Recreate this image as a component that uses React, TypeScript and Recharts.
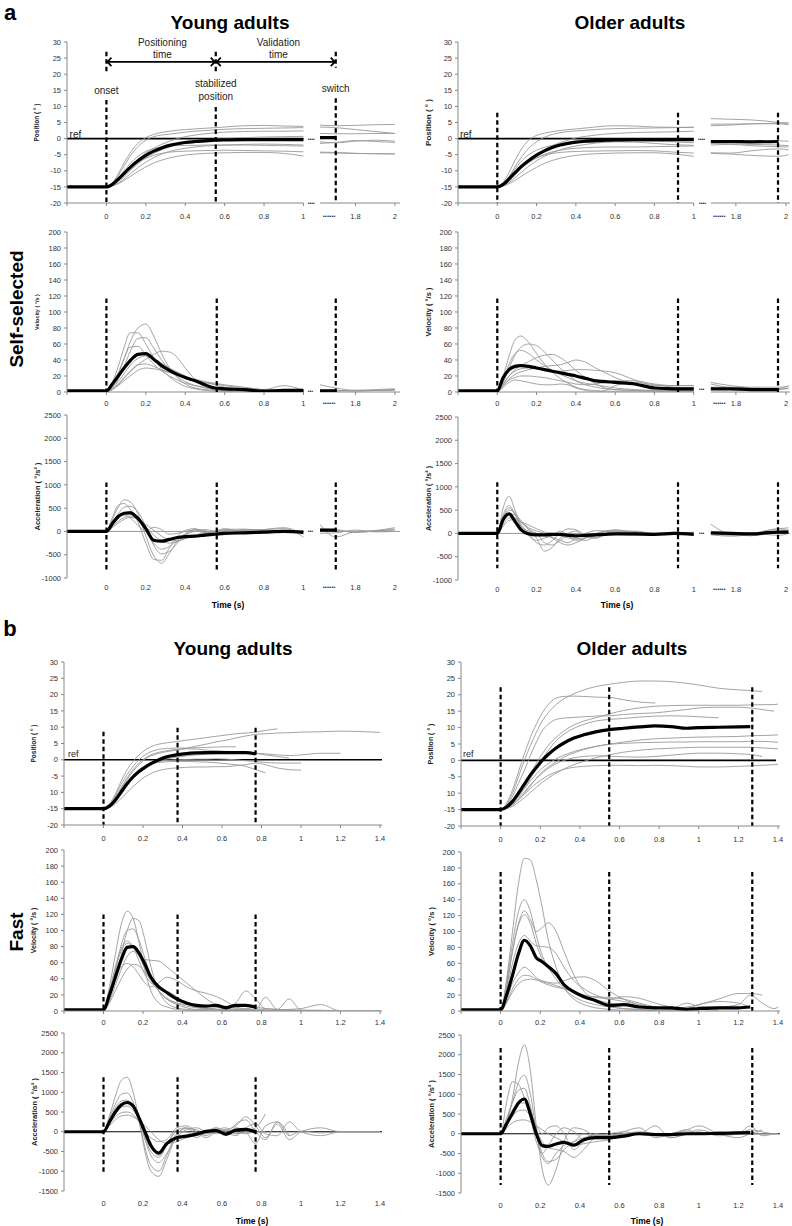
import React from "react";
import { LineChart, Line, XAxis, YAxis, ReferenceLine, ReferenceDot } from "recharts";

const FONT = "'Liberation Sans', Arial, Helvetica, sans-serif";
const GREY = "#9a9a9a";
const DOTS = "••••••";
const N = null;

// ---------- time grids (s) ----------
const timeAL = [-0.2, 0, 0.03, 0.06, 0.09, 0.12, 0.16, 0.2, 0.24, 0.28, 0.32, 0.36, 0.4, 0.45, 0.5, 0.55, 0.6, 0.7, 0.8, 0.9, 1.0, 1.02, 1.62, 1.7, 1.8, 1.9, 2.0];
const timeAR = [-0.2, 0, 0.03, 0.06, 0.09, 0.12, 0.16, 0.2, 0.24, 0.28, 0.32, 0.36, 0.4, 0.45, 0.5, 0.55, 0.6, 0.7, 0.8, 0.9, 1.0, 1.02, 1.7, 1.78, 1.86, 1.97, 2.01];
const timeBL = [-0.2, 0, 0.03, 0.06, 0.09, 0.12, 0.15, 0.18, 0.21, 0.24, 0.28, 0.32, 0.37, 0.42, 0.47, 0.52, 0.57, 0.62, 0.67, 0.72, 0.77, 0.82, 0.88, 0.94, 1.0, 1.1, 1.2, 1.4];
const timeBR = [-0.2, 0, 0.03, 0.06, 0.09, 0.12, 0.15, 0.18, 0.21, 0.24, 0.28, 0.32, 0.37, 0.42, 0.48, 0.55, 0.62, 0.7, 0.78, 0.86, 0.94, 1.0, 1.1, 1.2, 1.26, 1.32, 1.38, 1.4];

// ---------- a: self-selected, young ----------
const posMeanAL = [-15, -15, -14.2, -12.6, -10.8, -9.0, -6.9, -5.2, -3.9, -2.9, -2.1, -1.6, -1.2, -0.9, -0.7, -0.5, -0.4, -0.3, -0.3, -0.3, -0.3, N, 0.3, 0.3, N, N, N];
const posAL = [
  [-15, -15, -13.8, -11, -7.5, -4.5, -1.5, 0.3, 1.3, 1.9, 2.3, 2.6, 2.8, 3.0, 3.2, 3.4, 3.6, 4.0, 4.1, 3.9, 3.8, N, 4.2, 4.0, 4.1, 4.3, 4.4],
  [-15, -15, -14, -11.5, -8.5, -5.5, -2.5, -0.5, 0.6, 1.1, 1.4, 1.7, 2.0, 2.3, 2.5, 2.7, 2.9, 3.1, 3.2, 3.3, 3.4, N, 3.6, 3.4, 2.8, 2.2, 1.6],
  [-15, -15, -14.4, -13, -11, -9, -6.5, -4.5, -3, -1.8, -0.8, 0, 0.6, 1.1, 1.5, 1.8, 2.0, 2.2, 2.3, 2.3, 2.4, N, 1.6, 1.5, 1.5, 1.6, 1.6],
  [-15, -15, -14.5, -13.3, -11.8, -10, -7.8, -6, -4.6, -3.5, -2.6, -1.9, -1.4, -0.9, -0.5, -0.2, 0, 0.3, 0.5, 0.6, 0.7, N, -1.5, -1.2, -0.6, -0.9, -1.2],
  [-15, -15, -14.6, -13.8, -12.5, -11, -9, -7.3, -5.9, -4.8, -4, -3.4, -3, -2.6, -2.3, -2.1, -2, -1.8, -1.7, -1.8, -2.0, N, -1.0, -1.3, -0.8, -0.5, -0.8],
  [-15, -15, -14.3, -12.8, -11, -9.2, -7.4, -6.1, -5.2, -4.6, -4.2, -4, -3.9, -3.8, -3.7, -3.7, -3.6, -3.7, -3.8, -3.9, -4.1, N, -4.2, -4.3, -4.6, -4.7, -4.8],
  [-15, -15, -14.7, -14, -13, -11.8, -10.2, -8.8, -7.6, -6.7, -6, -5.5, -5.1, -4.8, -4.6, -4.5, -4.4, -4.3, -4.3, -4.6, -5.4, N, -4.4, -4.5, -4.6, -4.7, -4.7],
  [-15, -15, -14.2, -12.3, -10, -7.8, -5.5, -4, -3.1, -2.6, -2.3, -2.2, -2.1, -2.1, -2.0, -2.0, -2.0, -2.0, -2.1, -2.2, -2.3, N, N, N, N, N, N],
];
const velMeanAL = [1.5, 1.5, 10, 20, 30, 39, 47, 48, 41, 33, 27, 22, 18, 14, 9, 5, 4, 3, 1, 2, 2, N, 1.5, 1.5, N, N, N];
const velAL = [
  [0, 0, 8, 22, 42, 62, 80, 85, 70, 48, 30, 18, 10, 5, 3, 2, 1, 0.5, 0.5, 0.5, 0.5, N, 1, 2, 2, 3, 4],
  [0, 0, 12, 32, 56, 74, 74, 60, 43, 29, 19, 12, 7, 4, 2, 1, 1, 1, 1, 1, 1, N, 2, 2, 1, 2, 3],
  [0, 0, 6, 16, 32, 50, 67, 68, 55, 40, 28, 19, 13, 8, 5, 3, 2, 2, 2, 2, 2, N, 9, 5, 2, 2, 3],
  [0, 0, 9, 24, 42, 56, 57, 46, 35, 26, 20, 15, 11, 8, 6, 4, 3, 2, 1, 1, 1, N, N, N, N, N, N],
  [0, 0, 3, 9, 17, 25, 34, 41, 47, 51, 50, 43, 30, 16, 7, 3, 1, 0, 0, 0, 0, N, N, N, N, N, N],
  [0, 0, 5, 13, 23, 33, 42, 45, 42, 36, 30, 25, 20, 15, 12, 9, 6, 4, 2, 1, 1, N, 1, 1, 2, 2, 2],
  [0, 0, 4, 10, 18, 26, 34, 35, 32, 28, 25, 22, 19, 16, 13, 11, 9, 6, 3, 2, 2, N, N, N, N, N, N],
  [0, 0, 3, 8, 14, 20, 27, 30, 29, 27, 24, 21, 18, 15, 12, 10, 8, 5, 3, 8, 2, N, N, N, N, N, N],
];
const accMeanAL = [0, 0, 170, 320, 390, 400, 280, 60, -190, -210, -170, -130, -110, -100, -80, -60, -40, -30, -15, 0, -20, N, 30, 30, N, N, N];
const accAL = [
  [0, 0, 250, 520, 680, 640, 380, -100, -520, -680, -470, -200, -50, 40, 0, -30, 0, 30, 40, 60, -120, N, 150, -120, 0, 20, 80],
  [0, 0, 300, 560, 600, 480, 200, -250, -600, -620, -350, -100, 20, 60, -20, -50, 20, 0, 40, 80, -60, N, 50, 40, -20, 10, 30],
  [0, 0, 180, 380, 520, 540, 420, 100, -300, -480, -430, -250, -80, 0, 40, 0, -40, 20, 0, 20, 0, N, -40, -30, 30, -10, 0],
  [0, 0, 120, 280, 400, 430, 300, 30, -250, -380, -320, -180, -60, 40, 20, -40, -20, 40, 10, 0, 20, N, 0, 20, -20, 10, 50],
  [0, 0, 100, 220, 300, 330, 260, 100, -80, -200, -250, -220, -150, -80, -20, 10, 40, 50, 20, 10, 0, N, N, N, N, N, N],
  [0, 0, 80, 180, 260, 300, 270, 150, 30, -100, -180, -200, -150, -90, -40, 0, 30, 10, -20, 0, 0, N, N, N, N, N, N],
  [0, 0, 160, 300, 350, 290, 130, 10, 90, 40, -60, -40, 0, 30, -40, 0, 60, -10, 30, 10, 0, N, N, N, N, N, N],
];

// ---------- a: self-selected, older ----------
const posMeanAR = [-15, -15, -14.2, -12.5, -10.6, -8.8, -6.8, -5.1, -3.8, -2.8, -2.0, -1.5, -1.1, -0.8, -0.6, -0.5, -0.4, -0.3, -0.3, -0.3, -0.3, N, -0.9, -0.9, -1.0, -0.9, N];
const posAR = [
  [-15, -15, -13.6, -10.5, -6.8, -3.5, -0.5, 1.0, 1.7, 2.2, 2.5, 2.8, 3.0, 3.3, 3.6, 3.9, 4.0, 3.9, 3.6, 3.5, 3.4, N, 6.2, 6.0, 5.8, 5.0, 4.5],
  [-15, -15, -14, -11.8, -8.8, -6, -3, -1, 0.4, 1.3, 1.8, 2.2, 2.4, 2.6, 2.8, 3.0, 3.1, 3.2, 3.3, 3.4, 3.6, N, 4.0, 4.2, 4.6, 4.8, 5.0],
  [-15, -15, -14.5, -13.2, -11.4, -9.4, -7, -5, -3.4, -2.2, -1.2, -0.5, 0.2, 0.7, 1.1, 1.4, 1.6, 1.9, 2.0, 2.1, 2.3, N, 4.5, 4.5, 4.6, 4.6, 4.3],
  [-15, -15, -14.6, -13.6, -12.2, -10.6, -8.6, -6.9, -5.5, -4.4, -3.5, -2.8, -2.3, -1.8, -1.4, -1.1, -0.9, -0.7, -0.8, -1.0, -1.3, N, -1.2, -1.0, -0.8, -0.7, -0.8],
  [-15, -15, -14.4, -13, -11.2, -9.4, -7.5, -6, -4.9, -4.1, -3.6, -3.2, -3.0, -2.8, -2.7, -2.6, -2.6, -2.6, -2.5, -2.4, -2.3, N, -2.0, -1.8, -2.2, -2.5, -2.6],
  [-15, -15, -14.3, -12.7, -10.9, -9.1, -7.3, -6, -5.1, -4.6, -4.3, -4.1, -4.0, -3.9, -3.9, -3.8, -3.8, -3.7, -3.8, -4.2, -4.5, N, -4.6, -4.8, -5.2, -5.5, -5.0],
  [-15, -15, -14.7, -14, -13, -11.8, -10.3, -8.9, -7.7, -6.8, -6.1, -5.6, -5.2, -4.9, -4.7, -4.6, -4.5, -4.4, -4.4, -4.8, -5.5, N, -4.4, -4.5, -3.8, -3.2, -3.5],
  [-15, -15, -14, -12, -9.5, -7.2, -5, -3.6, -2.7, -2.1, -1.7, -1.5, -1.3, -1.2, -1.1, -1.0, -1.0, -1.1, -1.5, -1.9, -2.1, N, -1.5, -1.6, -1.8, -2.0, -2.2],
];
const velMeanAR = [1.5, 1.5, 18, 28, 32, 33, 32, 30, 28, 26, 24, 22, 20, 17, 14, 13, 12, 10, 5, 4, 4, N, 4, 4, 3, 3, N];
const velAR = [
  [0, 0, 20, 45, 65, 70, 62, 48, 35, 25, 17, 11, 6, 3, 2, 1, 1, 1, 1, 1, 1, N, 5, 3, 2, 3, 5],
  [0, 0, 12, 30, 46, 56, 60, 58, 50, 40, 30, 22, 14, 9, 6, 4, 3, 2, 2, 2, 2, N, 10, 5, 3, 4, 8],
  [0, 0, 15, 35, 48, 52, 48, 40, 33, 27, 22, 18, 14, 11, 9, 7, 5, 3, 2, 2, 2, N, N, N, N, N, N],
  [0, 0, 10, 20, 28, 33, 38, 43, 46, 47, 43, 36, 27, 18, 10, 5, 3, 2, 1, 1, 1, N, N, N, N, N, N],
  [0, 0, 8, 16, 22, 25, 28, 30, 32, 33, 34, 37, 40, 37, 30, 24, 18, 10, 6, 5, 5, N, 6, 6, 5, 4, 4],
  [0, 0, 10, 20, 26, 29, 30, 29, 27, 26, 26, 27, 28, 28, 27, 26, 24, 15, 8, 8, 8, N, 12, 8, 6, 6, 7],
  [0, 0, 8, 15, 18, 20, 20, 19, 18, 16, 14, 12, 10, 9, 10, 12, 14, 14, 10, 8, 8, N, N, N, N, N, N],
  [0, 0, 6, 12, 15, 14, 12, 10, 9, 9, 10, 9, 5, 2, 0, 2, 8, 12, 9, 6, 5, N, N, N, N, N, N],
];
const accMeanAR = [0, 0, 300, 420, 260, 80, -10, -30, -30, -20, -20, -40, -50, -40, -30, -20, -10, -10, -20, 0, -20, N, 10, 0, -10, 30, 30];
const accAR = [
  [0, 0, 550, 800, 500, 150, -50, -150, -100, -50, 50, -50, -150, -100, -20, 40, 60, 40, 0, 0, 30, N, 200, -20, -50, 40, 80],
  [0, 0, 400, 600, 400, 150, 50, 0, -200, -250, -150, -50, -100, -150, -50, 50, 50, 20, -30, 20, 0, N, -30, -60, -20, 100, 50],
  [0, 0, 300, 500, 450, 250, 80, -100, -380, -300, -100, 0, 50, -80, -100, 0, 40, -20, -40, 30, -30, N, 30, 20, 10, -40, 0],
  [0, 0, 250, 420, 400, 280, 100, 0, -50, -80, -150, -200, -100, 0, 60, 50, 0, -40, -30, 0, 20, N, N, N, N, N, N],
  [0, 0, 200, 330, 330, 250, 120, 50, 0, -100, -200, -250, -200, -100, 0, 50, 80, 20, -30, -20, 0, N, N, N, N, N, N],
  [0, 0, 150, 280, 300, 250, 180, 100, 30, 0, -50, -100, -120, -90, -50, -20, 0, 10, 0, -10, 0, N, N, N, N, N, N],
  [0, 0, 350, 550, 420, 200, 0, -200, -250, -150, 0, 100, 80, -50, -100, -30, 20, 50, 0, 0, 0, N, 0, -40, 0, 100, 120],
];

// ---------- b: fast, young ----------
const posMeanBL = [-15, -15, -14.2, -12.3, -9.8, -7.3, -5.2, -3.6, -2.3, -1.2, 0, 0.9, 1.5, 1.9, 2.1, 2.2, 2.2, 2.2, 2.2, 2.2, 1.8, N, N, N, N, N, N, N];
const posBL = [
  [-15, -15, -13.5, -10.5, -6.5, -3, -0.5, 1.5, 3, 4, 4.8, 5.2, 5.6, 6, 6.4, 6.8, 7.2, 7.6, 8, 8.2, 8.5, 9, 9.5, N, N, N, N, N],
  [-15, -15, -14, -12, -9, -6, -3.5, -1.5, 0.2, 1.2, 2, 2.5, 3, 3.5, 4.2, 4.8, 5.5, 6, 6.7, 7.3, 7.8, 8, 8.2, 8.3, 8.5, 8.6, 8.8, 8.4],
  [-15, -15, -13.8, -11, -7.5, -4.5, -2, 0, 1.5, 2.5, 3.2, 3.5, 3.6, 3.6, 3.7, 3.8, 3.9, 4, 4, N, N, N, N, N, N, N, N, N],
  [-15, -15, -14.5, -13, -10.5, -8, -5.8, -4, -2.6, -1.5, -0.5, 0.2, 0.8, 1.2, 1.5, 1.7, 1.9, 2, 2.1, 2.1, 2.0, 1.8, 1.5, 1.3, 1.5, 2, 2, N],
  [-15, -15, -14.3, -12.5, -10, -7.5, -5.3, -3.6, -2.3, -1.4, -0.6, -0.2, 0, 0.1, 0.2, 0.2, 0.3, 0.2, 0, -0.3, -0.5, -0.8, -1, -1, -1, N, N, N],
  [-15, -15, -14.6, -13.5, -11.8, -10, -8.2, -6.6, -5.2, -4.2, -3.3, -2.8, -2.5, -2.3, -2.2, -2.2, -2.1, -2.1, -1.8, -1.5, -1.0, -1.5, -2.5, -3, -3.2, N, N, N],
  [-15, -15, -14.2, -12.2, -9.6, -7, -4.8, -3, -1.8, -1.2, -0.8, -0.6, -0.5, -0.5, -0.6, -0.7, -0.9, -1.2, -1.5, -2.0, -3, -4, N, N, N, N, N, N],
  [-15, -15, -14, -11.5, -8.5, -5.5, -3, -1, 0.5, 1.5, 2.3, 2.8, 3.2, 3.4, 3.3, 3.0, 2.8, 2.6, 2.4, 2.2, 2.0, 1.5, 1, 0.5, N, N, N, N],
];
const velMeanBL = [1.5, 1.5, 20, 42, 64, 79, 80, 72, 58, 42, 30, 23, 15, 10, 7, 6, 7, 4, 7, 7, 5, N, N, N, N, N, N, N];
const velBL = [
  [0, 0, 30, 70, 108, 124, 115, 85, 50, 25, 10, 5, 2, 1, 1, 1, 1, 1, 1, 1, 1, 1, 1, 1, 0, N, N, N],
  [0, 0, 15, 40, 70, 100, 115, 112, 88, 55, 25, 10, 4, 2, 1, 1, 2, 4, 10, 25, 15, 3, 2, 1, N, N, N, N],
  [0, 0, 20, 50, 82, 100, 102, 88, 65, 42, 25, 15, 8, 4, 2, 2, 4, 6, 4, 3, 2, 17, 2, 15, 1, 0, N, N],
  [0, 0, 25, 55, 78, 87, 80, 62, 45, 35, 30, 25, 18, 10, 5, 3, 2, 1, 1, 1, 1, 1, 1, 2, 3, 8, 0, 0],
  [0, 0, 12, 32, 52, 68, 74, 70, 64, 63, 62, 55, 45, 35, 25, 15, 8, 4, 2, 1, 1, N, N, N, N, N, N, N],
  [0, 0, 18, 40, 55, 59, 55, 45, 35, 30, 35, 42, 38, 30, 25, 22, 18, 12, 5, 2, 1, 0, N, N, N, N, N, N],
  [0, 0, 10, 25, 40, 52, 58, 56, 48, 38, 25, 15, 10, 8, 5, 3, 2, 1, 3, 8, 3, 2, N, N, N, N, N, N],
  [0, 0, 22, 52, 75, 84, 80, 68, 52, 38, 25, 16, 10, 6, 4, 3, 2, 1, 1, 2, 5, 3, 2, 1, 1, 1, 0, 0],
];
const accMeanBL = [0, 0, 250, 500, 680, 740, 650, 350, 0, -350, -540, -300, -150, -110, -60, 10, 30, -60, 40, 60, -10, N, N, N, N, N, N, N];
const accBL = [
  [0, 0, 400, 900, 1300, 1380, 1000, 300, -500, -1000, -1130, -700, -100, 100, 0, -100, 50, 100, -50, 0, 0, N, N, N, N, N, N, N],
  [0, 0, 350, 700, 950, 980, 750, 250, -400, -850, -1000, -600, -50, 80, 50, -50, 100, -50, 200, 300, 0, -200, 250, -100, N, N, N, N],
  [0, 0, 300, 600, 780, 800, 650, 300, -200, -600, -780, -550, -150, 50, 100, 0, -50, 50, 150, 380, 150, -150, 200, -200, 0, 100, 0, 0],
  [0, 0, 250, 480, 620, 650, 550, 300, -100, -400, -600, -350, 50, 100, -50, 0, 50, -100, 100, 0, -300, 150, 250, -100, 20, -30, 0, 0],
  [0, 0, 200, 380, 480, 500, 430, 250, 0, -150, -250, -200, 100, 150, 0, -150, 0, 50, -50, 0, 100, 450, N, N, N, N, N, N],
  [0, 0, 280, 550, 720, 760, 620, 300, -150, -500, -650, -350, 0, 0, -150, 0, 100, 0, -100, 100, 200, -50, -100, 250, 0, -100, 0, 0],
  [0, 0, 150, 300, 400, 420, 380, 280, 150, 0, -200, -300, -250, -150, -100, -50, 0, 50, 0, -50, 0, 0, N, N, N, N, N, N],
];

// ---------- b: fast, older ----------
const posMeanBR = [-15, -15, -14.2, -12.5, -10, -7.2, -4.5, -2.2, 0, 1.8, 3.8, 5.3, 6.8, 7.8, 8.7, 9.4, 9.8, 10.2, 10.5, 10.3, 9.8, 10, 10.1, 10.2, 10.3, N, N, N];
const posBR = [
  [-15, -15, -13.5, -10, -5, 0, 4.5, 8.5, 12, 14.5, 17, 18.8, 20.3, 21.5, 22.5, 23.2, 23.8, 24.2, 24.2, 24, 23.5, 23, 22, 21.5, 21.3, 21, N, N],
  [-15, -15, -13, -9, -3.5, 2, 7, 11, 14.5, 17, 19, 19.5, 19.6, 19.5, 19.3, 19.2, 18.5, 17.8, 17.5, N, N, N, N, N, N, N, N, N],
  [-15, -15, -14.2, -12.5, -10, -7, -4, -1, 2, 4.5, 7, 9, 10.8, 12, 13, 14.2, 15.2, 16, 16.5, 16.7, 16.8, 16.8, 16.8, 16.8, 16.9, 17, 17, 17.2],
  [-15, -15, -13.8, -11, -7, -3, 1.5, 5.5, 9, 11, 12.5, 12.9, 13.1, 13.3, 13.5, 13.6, 14, 14.3, 14.5, 15, 15.5, 16, 16.2, 16.2, 16, 15.5, 15, N],
  [-15, -15, -14.5, -13, -11, -8.5, -5.5, -2.5, 0.5, 3, 6, 8, 9.8, 11, 12, 12.5, 12.8, 13.2, 13.5, 13.6, 13.5, 13.3, 13, N, N, N, N, N],
  [-15, -15, -14.6, -13.6, -12, -10, -7.8, -5.5, -3.5, -2, -0.5, 1, 2.3, 3.3, 4.2, 5, 5.6, 6.2, 6.6, 6.8, 7, 7.1, 7.2, 7.3, 7.5, 7.6, 7.7, 7.8],
  [-15, -15, -14.3, -12.8, -10.8, -8.6, -6.3, -4.2, -2.4, -1, 0.5, 1.6, 2.7, 3.5, 4.3, 4.9, 5.2, 5.4, 5.5, 5.6, 5.6, 5.7, 5.7, 5.7, 5.8, 5.8, 5.6, 5.5],
  [-15, -15, -14.7, -14, -12.8, -11.4, -9.8, -8.2, -6.7, -5.4, -3.9, -2.6, -1.3, -0.3, 0.8, 1.7, 2.5, 3.1, 3.5, 3.7, 3.9, 4, 4, 4, 4, 3.8, 3.6, 3.5],
  [-15, -15, -14.6, -13.5, -12, -10.3, -8.6, -7, -5.7, -4.6, -3.5, -2.7, -2.1, -1.8, -1.6, -1.5, -1.5, -1.6, -1.5, -1.6, -1.8, -2, -2, -1.8, -1.7, -1.5, -1.3, -1.2],
  [-15, -15, -14.5, -13.2, -11.5, -9.6, -7.5, -5.6, -3.9, -2.5, -1, 0, 0.8, 1.2, 1.4, 1.3, 1.1, 1.0, 1.2, 1.6, 2.0, 2.2, 2.2, 2.0, 1.8, 1.2, N, N],
];
const velMeanBR = [1.5, 1.5, 20, 45, 72, 89, 82, 67, 62, 56, 47, 33, 24, 18, 13, 7, 8, 5, 4, 4, 2, 3, 4, 4, 5, N, N, N];
const velBR = [
  [0, 0, 40, 100, 160, 192, 190, 165, 130, 90, 55, 30, 15, 8, 4, 2, 1, 1, 0, N, N, N, N, N, N, N, N, N],
  [0, 0, 35, 85, 125, 140, 125, 95, 70, 55, 40, 28, 18, 12, 8, 5, 3, 2, 1, 1, 0, N, N, N, N, N, N, N],
  [0, 0, 30, 75, 110, 126, 115, 100, 105, 111, 100, 75, 45, 25, 12, 6, 3, 2, 1, N, N, N, N, N, N, N, N, N],
  [0, 0, 30, 75, 108, 121, 110, 85, 65, 55, 45, 35, 25, 20, 18, 17, 15, 10, 5, 3, 2, 1, N, N, N, N, N, N],
  [0, 0, 25, 60, 85, 95, 88, 82, 81, 80, 72, 55, 38, 28, 20, 15, 18, 16, 10, 5, 3, 2, 1, N, N, N, N, N],
  [0, 0, 15, 35, 48, 55, 50, 42, 38, 36, 35, 38, 42, 43, 38, 25, 15, 8, 4, 2, 3, 8, 12, 10, 4, N, N, N],
  [0, 0, 12, 28, 40, 45, 44, 40, 36, 33, 30, 28, 24, 20, 17, 15, 12, 8, 5, 3, 5, 8, 15, 22, 22, 20, N, N],
  [0, 0, 10, 24, 34, 39, 40, 39, 37, 35, 32, 28, 24, 18, 14, 10, 8, 6, 4, 3, 10, 6, 5, 8, 20, 10, 3, 5],
];
const accMeanBR = [0, 0, 250, 520, 780, 880, 500, 0, -300, -320, -260, -220, -290, -150, -100, -100, -60, 0, -20, -20, 0, 0, 10, 20, 30, N, N, N];
const accBR = [
  [0, 0, 300, 900, 1800, 2250, 1600, 200, -900, -1300, -900, -200, 150, 100, -50, 0, 50, 0, 0, 0, 50, 0, N, N, N, N, N, N],
  [0, 0, 300, 800, 1300, 1480, 1000, 100, -500, -700, -650, -400, -200, 0, -100, -50, 50, 150, -100, 0, 100, 0, 50, 0, 0, N, N, N],
  [0, 0, 800, 1320, 1250, 900, 400, -200, -500, -300, 0, 150, 50, -150, 0, -100, 0, 0, 200, -100, 0, 100, 0, 0, N, N, N, N],
  [0, 0, 400, 800, 1100, 1150, 700, 0, -600, -750, -500, -300, -200, -100, -50, -50, 0, 50, 0, 0, 100, 200, 0, -100, 0, 100, N, N],
  [0, 0, 300, 600, 780, 780, 500, 100, -200, -350, -400, -450, -600, -400, -100, -100, 0, -20, 0, -100, 0, 50, -50, 0, 200, -50, 0, N],
  [0, 0, 250, 450, 580, 600, 450, 200, 0, 150, 200, 0, -400, -200, 0, -50, 0, 20, 0, 0, 0, 30, 0, 50, 0, 0, 0, 0],
  [0, 0, 150, 280, 340, 350, 300, 200, 100, 0, -100, -200, -300, -250, -200, -150, -50, 0, 0, 0, 0, 0, 0, 0, 100, 50, 0, 0],
];

// ---------- axis ticks ----------
const posTicks = [-20, -15, -10, -5, 0, 5, 10, 15, 20, 25, 30];
const velTicks = [0, 20, 40, 60, 80, 100, 120, 140, 160, 180, 200];
const accTicksA = [-1000, -500, 0, 500, 1000, 1500, 2000, 2500];
const accTicksB = [-1500, -1000, -500, 0, 500, 1000, 1500, 2000, 2500];
const tickTimesA = [-0.2, 0, 0.2, 0.4, 0.6, 0.8, 1, 1.8, 2];
const tickLabelsA = ["", "0", "0.2", "0.4", "0.6", "0.8", "1", "1.8", "2"];
const tickTimesB = [-0.2, 0, 0.2, 0.4, 0.6, 0.8, 1, 1.2, 1.4];
const tickLabelsB = ["", "0", "0.2", "0.4", "0.6", "0.8", "1", "1.2", "1.4"];

// broken time axis in panel a: 1.0 s is followed by the end of the trial
const dispAL = (t: number) => (t <= 1.05 ? t : 1.084 + (t - 1.62));
const dispAR = (t: number) => (t <= 1.05 ? t : 1.087 + (t - 1.7) * 1.276);
const ident = (t: number) => t;

function buildRows(times: number[], disp: (t: number) => number, mean: any[], traces: any[][]) {
  return times.map((t, i) => {
    const r: any = { x: disp(t), m: mean[i] };
    traces.forEach((s, k) => {
      r["g" + k] = s[i];
    });
    return r;
  });
}

const MT = 6;
const MR = 4;
const YW = 60;
const XH = 26;

type HSeg = { y: number; from: number; to: number; stroke: string; w: number };
type VSeg = { x: number; top: number; bottom: number };
type Note = { x: number; y: number; lines: string[]; anchor?: string; size?: number; gap?: number };

interface PanelCfg {
  x0: number; x1: number; y0: number; y1: number;
  rows: any[]; nTraces: number;
  xDomain: [number, number]; xTicks: number[]; xLabels: string[];
  yDomain: [number, number]; yTicks: number[]; yFmt?: (v: number) => string;
  yLabel: string; yLabelSize: number;
  labelOffset: number; tickMarks: boolean; xAxisLine: boolean;
  hsegs: HSeg[]; vsegs: VSeg[]; notes: Note[];
  arrows?: { from: number; to: number; y: number }[];
}

const arrowShape = (p: any) => {
  const { x1, y1, x2, y2 } = p;
  const hs = 5;
  return (
    <g stroke="#000" strokeWidth={1.8} fill="none">
      <line x1={x1 + 1} y1={y1} x2={x2 - 1} y2={y2} />
      <polyline points={`${x1 + hs},${y1 - hs * 0.85} ${x1 + 1},${y1} ${x1 + hs},${y1 + hs * 0.85}`} />
      <polyline points={`${x2 - hs},${y2 - hs * 0.85} ${x2 - 1},${y2} ${x2 - hs},${y2 + hs * 0.85}`} />
    </g>
  );
};

function renderNote(lp: any, n: Note) {
  const vb = lp.viewBox || {};
  const cx = (vb.x ?? vb.cx ?? 0) + (vb.width || 0) / 2;
  const cy = (vb.y ?? vb.cy ?? 0) + (vb.height || 0) / 2;
  const size = n.size ?? 10;
  const gap = n.gap ?? 12;
  const k = n.lines.length;
  return (
    <g>
      {n.lines.map((l, i) => (
        <text
          key={i}
          x={cx}
          y={cy + (i - (k - 1) / 2) * gap}
          textAnchor={(n.anchor as any) ?? "middle"}
          dominantBaseline="central"
          fontSize={size}
          fontFamily={FONT}
          fill="#222"
        >
          {l}
        </text>
      ))}
    </g>
  );
}

function Panel({ c }: { c: PanelCfg }) {
  const ph = c.y1 - c.y0;
  const w = c.x1 - c.x0 + YW + MR;
  const h = ph + MT + XH;
  const axisY = MT + ph;
  const renderTick = (tp: any) => {
    const v = tp.payload.value;
    const i = c.xTicks.findIndex((t) => Math.abs(t - v) < 1e-6);
    const lab = i >= 0 ? c.xLabels[i] : "";
    const dots = lab.startsWith("•");
    return (
      <g>
        {c.tickMarks && !dots && <line x1={tp.x} x2={tp.x} y1={axisY} y2={axisY + 3} stroke="#888" />}
        <text x={tp.x} y={axisY + c.labelOffset} textAnchor="middle" dominantBaseline="central" fontSize={dots ? 6 : 7.5} fill="#333" fontFamily={FONT}>
          {lab}
        </text>
      </g>
    );
  };
  return (
    <div style={{ position: "absolute", left: c.x0 - YW, top: c.y0 - MT }}>
      <LineChart width={w} height={h} data={c.rows} margin={{ top: MT, right: MR, bottom: 0, left: 0 }}>
        <XAxis
          type="number"
          dataKey="x"
          domain={c.xDomain}
          ticks={c.xTicks}
          interval={0}
          allowDataOverflow
          height={XH}
          axisLine={c.xAxisLine ? { stroke: "#888" } : false}
          tickLine={false}
          tick={renderTick}
        />
        <YAxis
          type="number"
          domain={c.yDomain}
          ticks={c.yTicks}
          interval={0}
          allowDataOverflow
          width={YW}
          tickSize={3}
          tickMargin={3}
          axisLine={{ stroke: "#888" }}
          tickLine={{ stroke: "#888" }}
          tick={{ fontSize: 7.5, fill: "#333", fontFamily: FONT }}
          tickFormatter={c.yFmt}
          label={{
            value: c.yLabel,
            angle: -90,
            position: "center",
            style: { fontSize: c.yLabelSize, fontWeight: "bold", fill: "#222", fontFamily: FONT },
          }}
        />
        {c.hsegs.map((s, i) => (
          <ReferenceLine
            key={"h" + i}
            segment={[{ x: s.from, y: s.y }, { x: s.to, y: s.y }]}
            stroke={s.stroke}
            strokeWidth={s.w}
            ifOverflow="visible"
          />
        ))}
        {Array.from({ length: c.nTraces }, (_, k) => (
          <Line
            key={"g" + k}
            dataKey={"g" + k}
            type="monotone"
            stroke={GREY}
            strokeWidth={0.9}
            dot={false}
            activeDot={false}
            isAnimationActive={false}
          />
        ))}
        <Line dataKey="m" type="monotone" stroke="#000" strokeWidth={3.2} dot={false} activeDot={false} isAnimationActive={false} />
        {c.vsegs.map((s, i) => (
          <ReferenceLine
            key={"v" + i}
            segment={[{ x: s.x, y: s.top }, { x: s.x, y: s.bottom }]}
            stroke="#000"
            strokeWidth={2.2}
            strokeDasharray="4.5 3"
            ifOverflow="visible"
          />
        ))}
        {(c.arrows || []).map((a, i) => (
          <ReferenceLine
            key={"a" + i}
            segment={[{ x: a.from, y: a.y }, { x: a.to, y: a.y }]}
            ifOverflow="visible"
            shape={arrowShape}
          />
        ))}
        {c.notes.map((n, i) => (
          <ReferenceDot
            key={"n" + i}
            x={n.x}
            y={n.y}
            r={0}
            fill="none"
            stroke="none"
            ifOverflow="visible"
            label={{ content: (lp: any) => renderNote(lp, n) }}
          />
        ))}
      </LineChart>
    </div>
  );
}

const vs = (xs: number[], top: number, bottom: number): VSeg[] => xs.map((x) => ({ x, top, bottom }));
const dotNote = (x: number, y: number, s = "••••"): Note => ({ x, y, lines: [s], size: 5 });

// ---------- panel definitions ----------
const xDomA: [number, number] = [-0.2, 1.49];
const xDomB: [number, number] = [-0.2, 1.41];
const xTicksAL = [...tickTimesA.map(dispAL), 1.13];
const xTicksAR = [...tickTimesA.map(dispAR), 1.13];
const xLabelsA = [...tickLabelsA, DOTS];
const bFmt = (v: number) => (v === -10 ? "10" : String(v));

const markAL = [0, 0.555, dispAL(1.7)];
const markAR = [0, 0.92, dispAR(1.968)];
const markBL = [0, 0.375, 0.77];
const markBR = [0, 0.548, 1.27];

const segA = (y: number, stroke: string, w: number, start: number): HSeg[] => [
  { y, from: -0.2, to: 1.0, stroke, w },
  { y, from: start, to: 1.49, stroke, w },
];

const panels: PanelCfg[] = [
  // a, young
  {
    x0: 67, x1: 400, y0: 42, y1: 203,
    rows: buildRows(timeAL, dispAL, posMeanAL, posAL), nTraces: posAL.length,
    xDomain: xDomA, xTicks: xTicksAL, xLabels: xLabelsA,
    yDomain: [-20, 30], yTicks: posTicks, yLabel: "Position ( ° )", yLabelSize: 6.5,
    labelOffset: 13, tickMarks: true, xAxisLine: false,
    hsegs: [...segA(-20, "#888", 1, 1.084), { y: 0, from: -0.2, to: 1.0, stroke: "#000", w: 1.6 }],
    vsegs: [
      { x: 0, top: 27, bottom: 20 }, { x: 0, top: 12, bottom: -20 },
      { x: markAL[1], top: 27, bottom: 20.7 }, { x: markAL[1], top: 9.8, bottom: -20 },
      { x: markAL[2], top: 27, bottom: 22 }, { x: markAL[2], top: 12.5, bottom: -20 },
    ],
    arrows: [{ from: 0, to: markAL[1], y: 23.8 }, { from: markAL[1], to: markAL[2], y: 23.8 }],
    notes: [
      { x: 0.284, y: 27.9, lines: ["Positioning", "time"] },
      { x: 0.873, y: 27.9, lines: ["Validation", "time"] },
      { x: 0, y: 14.8, lines: ["onset"] },
      { x: markAL[1], y: 15.2, lines: ["stabilized", "position"], gap: 13 },
      { x: markAL[2], y: 15.7, lines: ["switch"] },
      { x: -0.187, y: 1.3, lines: ["ref"], anchor: "start", size: 10 },
      dotNote(1.04, 0), dotNote(1.04, -20),
    ],
  },
  {
    x0: 67, x1: 400, y0: 232, y1: 392,
    rows: buildRows(timeAL, dispAL, velMeanAL, velAL), nTraces: velAL.length,
    xDomain: xDomA, xTicks: xTicksAL, xLabels: xLabelsA,
    yDomain: [0, 200], yTicks: velTicks, yLabel: "Velocity ( °/s )", yLabelSize: 5.5,
    labelOffset: 11, tickMarks: true, xAxisLine: false,
    hsegs: segA(0, "#888", 1, 1.084),
    vsegs: vs([0, 0.56, markAL[2]], 117, 0),
    notes: [dotNote(1.035, 1.5, "•••")],
  },
  {
    x0: 67, x1: 400, y0: 415, y1: 578,
    rows: buildRows(timeAL, dispAL, accMeanAL, accAL), nTraces: accAL.length,
    xDomain: xDomA, xTicks: xTicksAL, xLabels: xLabelsA,
    yDomain: [-1000, 2500], yTicks: accTicksA, yLabel: "Acceleration ( °/s² )", yLabelSize: 7.5,
    labelOffset: 9, tickMarks: false, xAxisLine: false,
    hsegs: segA(0, "#999", 1, 1.084),
    vsegs: vs([0, 0.56, markAL[2]], 1050, -830),
    notes: [dotNote(1.035, 0, "•••")],
  },
  // a, older
  {
    x0: 458, x1: 790, y0: 42, y1: 203,
    rows: buildRows(timeAR, dispAR, posMeanAR, posAR), nTraces: posAR.length,
    xDomain: xDomA, xTicks: xTicksAR, xLabels: xLabelsA,
    yDomain: [-20, 30], yTicks: posTicks, yLabel: "Position ( ° )", yLabelSize: 8,
    labelOffset: 13, tickMarks: true, xAxisLine: false,
    hsegs: [...segA(-20, "#888", 1, 1.087), { y: 0, from: -0.2, to: 1.0, stroke: "#000", w: 1.6 }],
    vsegs: vs(markAR, 8, -20),
    notes: [{ x: -0.19, y: 1.3, lines: ["ref"], anchor: "start", size: 10 }, dotNote(1.04, 0), dotNote(1.045, -20)],
  },
  {
    x0: 458, x1: 790, y0: 232, y1: 392,
    rows: buildRows(timeAR, dispAR, velMeanAR, velAR), nTraces: velAR.length,
    xDomain: xDomA, xTicks: xTicksAR, xLabels: xLabelsA,
    yDomain: [0, 200], yTicks: velTicks, yLabel: "Velocity ( °/s )", yLabelSize: 7.5,
    labelOffset: 11, tickMarks: true, xAxisLine: false,
    hsegs: segA(0, "#888", 1, 1.087),
    vsegs: vs(markAR, 117, 0),
    notes: [dotNote(1.04, 4, "•••")],
  },
  {
    x0: 458, x1: 790, y0: 417, y1: 580,
    rows: buildRows(timeAR, dispAR, accMeanAR, accAR), nTraces: accAR.length,
    xDomain: xDomA, xTicks: xTicksAR, xLabels: xLabelsA,
    yDomain: [-1000, 2500], yTicks: accTicksA, yLabel: "Acceleration ( °/s² )", yLabelSize: 7.2,
    labelOffset: 9, tickMarks: false, xAxisLine: false,
    hsegs: segA(0, "#999", 1, 1.087),
    vsegs: vs(markAR, 1100, -750),
    notes: [dotNote(1.04, 0, "•••")],
  },
  // b, young
  {
    x0: 64, x1: 382, y0: 662, y1: 825,
    rows: buildRows(timeBL, ident, posMeanBL, posBL), nTraces: posBL.length,
    xDomain: xDomB, xTicks: tickTimesB, xLabels: tickLabelsB,
    yDomain: [-20, 30], yTicks: posTicks, yFmt: bFmt, yLabel: "Position ( ° )", yLabelSize: 6.5,
    labelOffset: 13, tickMarks: true, xAxisLine: true,
    hsegs: [{ y: 0, from: -0.2, to: 1.41, stroke: "#000", w: 1.6 }],
    vsegs: [{ x: 0, top: 8.6, bottom: -20 }, { x: markBL[1], top: 9.8, bottom: -20 }, { x: markBL[2], top: 9.8, bottom: -20 }],
    notes: [{ x: -0.18, y: 1.8, lines: ["ref"], anchor: "start", size: 9 }],
  },
  {
    x0: 64, x1: 382, y0: 850, y1: 1011,
    rows: buildRows(timeBL, ident, velMeanBL, velBL), nTraces: velBL.length,
    xDomain: xDomB, xTicks: tickTimesB, xLabels: tickLabelsB,
    yDomain: [0, 200], yTicks: velTicks, yLabel: "Velocity ( °/s )", yLabelSize: 7,
    labelOffset: 11, tickMarks: true, xAxisLine: true,
    hsegs: [],
    vsegs: vs(markBL, 120, 0),
    notes: [],
  },
  {
    x0: 64, x1: 382, y0: 1033, y1: 1191,
    rows: buildRows(timeBL, ident, accMeanBL, accBL), nTraces: accBL.length,
    xDomain: xDomB, xTicks: tickTimesB, xLabels: tickLabelsB,
    yDomain: [-1500, 2500], yTicks: accTicksB, yLabel: "Acceleration ( °/s² )", yLabelSize: 7.5,
    labelOffset: 12, tickMarks: false, xAxisLine: false,
    hsegs: [{ y: 0, from: -0.2, to: 1.41, stroke: "#000", w: 1 }],
    vsegs: vs(markBL, 1380, -1050),
    notes: [],
  },
  // b, older
  {
    x0: 461, x1: 780, y0: 662, y1: 826,
    rows: buildRows(timeBR, ident, posMeanBR, posBR), nTraces: posBR.length,
    xDomain: xDomB, xTicks: tickTimesB, xLabels: tickLabelsB,
    yDomain: [-20, 30], yTicks: posTicks, yFmt: bFmt, yLabel: "Position ( ° )", yLabelSize: 7,
    labelOffset: 13, tickMarks: true, xAxisLine: true,
    hsegs: [{ y: 0, from: -0.2, to: 1.39, stroke: "#000", w: 1.6 }],
    vsegs: vs(markBR, 22.3, -20),
    notes: [{ x: -0.19, y: 1.8, lines: ["ref"], anchor: "start", size: 9 }],
  },
  {
    x0: 461, x1: 780, y0: 852, y1: 1011,
    rows: buildRows(timeBR, ident, velMeanBR, velBR), nTraces: velBR.length,
    xDomain: xDomB, xTicks: tickTimesB, xLabels: tickLabelsB,
    yDomain: [0, 200], yTicks: velTicks, yLabel: "Velocity ( °/s )", yLabelSize: 7.5,
    labelOffset: 11, tickMarks: true, xAxisLine: true,
    hsegs: [],
    vsegs: vs(markBR, 175, 0),
    notes: [],
  },
  {
    x0: 461, x1: 780, y0: 1035, y1: 1193,
    rows: buildRows(timeBR, ident, accMeanBR, accBR), nTraces: accBR.length,
    xDomain: xDomB, xTicks: tickTimesB, xLabels: tickLabelsB,
    yDomain: [-1500, 2500], yTicks: accTicksB, yLabel: "Acceleration ( °/s² )", yLabelSize: 7.5,
    labelOffset: 12, tickMarks: false, xAxisLine: false,
    hsegs: [{ y: 0, from: -0.2, to: 1.41, stroke: "#000", w: 1 }],
    vsegs: vs(markBR, 2170, -1300),
    notes: [],
  },
];

const Txt = ({ x, y, size, children, rotate = false, bold = true, lh = 1 }: any) => (
  <div
    style={{
      position: "absolute",
      left: x,
      top: y,
      transform: `translate(-50%, -50%)${rotate ? " rotate(-90deg)" : ""}`,
      fontFamily: FONT,
      fontSize: size,
      fontWeight: bold ? "bold" : "normal",
      lineHeight: lh,
      whiteSpace: "nowrap",
      color: "#000",
    }}
  >
    {children}
  </div>
);

export default function App() {
  return (
    <div style={{ position: "absolute", left: 0, top: 0, width: 792, height: 1226, overflow: "hidden", background: "#fff" }}>
      <Txt x={10} y={13} size={22}>a</Txt>
      <Txt x={10} y={629} size={22}>b</Txt>
      <Txt x={230} y={22} size={19}>Young adults</Txt>
      <Txt x={630} y={22} size={19}>Older adults</Txt>
      <Txt x={233} y={648} size={19}>Young adults</Txt>
      <Txt x={632} y={648} size={19}>Older adults</Txt>
      <Txt x={16} y={309} size={19} rotate>Self-selected</Txt>
      <Txt x={16} y={932} size={19} rotate>Fast</Txt>
      <Txt x={228} y={605} size={8.5}>Time (s)</Txt>
      <Txt x={617} y={605} size={8.5}>Time (s)</Txt>
      <Txt x={252} y={1221} size={8.5}>Time (s)</Txt>
      <Txt x={647} y={1221} size={8.5}>Time (s)</Txt>
      {panels.map((c, i) => (
        <Panel key={i} c={c} />
      ))}
    </div>
  );
}
